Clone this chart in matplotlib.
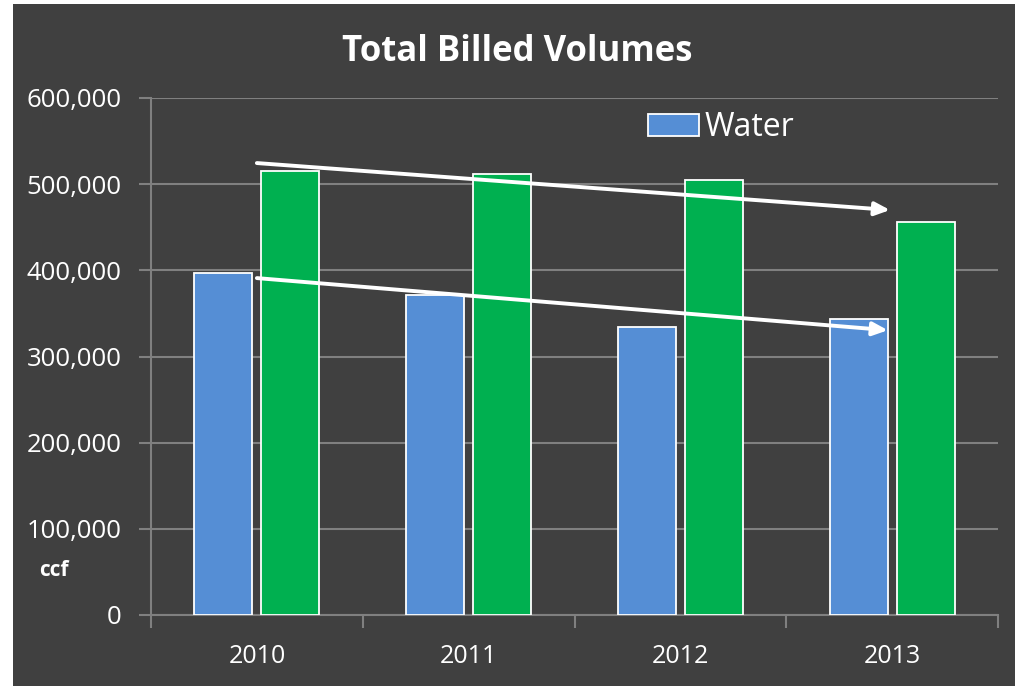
import numpy as np
import matplotlib.pyplot as plt
from matplotlib.patches import Rectangle
from matplotlib.ticker import FuncFormatter

years = ["2010", "2011", "2012", "2013"]
water = [397000, 371500, 334000, 343500]
sewer = [515500, 511500, 505000, 456000]
# trend arrows (start at 2010, end near 2013)
sewer_trend = [524500, 470000]
water_trend = [391000, 330500]

bg = "#404040"
grid_c = "#808080"
plt.rcParams['font.family'] = ['Open Sans', 'DejaVu Sans']

fig = plt.figure(figsize=(10.15, 6.86), dpi=100, facecolor="white")
fig.patches.append(Rectangle((13 / 1015, 0), 1, 1 - 4 / 686, transform=fig.transFigure,
                             facecolor=bg, edgecolor="none", zorder=-10))
ax = fig.add_axes([151 / 1015, 1 - 615 / 686, (998 - 151) / 1015, (615 - 98) / 686])
ax.set_facecolor(bg)

x = np.arange(len(years))
w = 0.274
off = 0.158
ax.bar(x - off, water, w, color="#558ED5", edgecolor="white", linewidth=1.3,
       label="Water", zorder=3)
ax.bar(x + off, sewer, w, color="#00B050", edgecolor="white", linewidth=1.3, zorder=3)

ax.set_xlim(-0.5, 3.5)
ax.set_ylim(0, 600000)
ax.set_yticks(np.arange(0, 600001, 100000))
ax.yaxis.set_major_formatter(FuncFormatter(lambda v, p: f"{int(v):,}"))
ax.set_xticks(x)
ax.set_xticklabels(years)
ax.set_xticks(np.arange(-0.5, 3.6, 1), minor=True)
ax.tick_params(axis="x", which="major", length=0, pad=21, labelsize=18, colors="white")
ax.tick_params(axis="x", which="minor", length=9, width=1.5, color=grid_c)
ax.tick_params(axis="y", length=9, width=1.5, color=grid_c, labelsize=18.5, labelcolor="white", pad=12)
ax.grid(axis="y", color=grid_c, linewidth=1.5, zorder=0)
for s in ["top", "right"]:
    ax.spines[s].set_visible(False)
for s in ["left", "bottom"]:
    ax.spines[s].set_color(grid_c)
    ax.spines[s].set_linewidth(1.5)

arrow = dict(arrowstyle="-|>,head_length=0.9,head_width=0.4", color="white", lw=2.8,
             shrinkA=0, shrinkB=0)
ax.annotate("", xy=(2.99, sewer_trend[1]), xytext=(0, sewer_trend[0]), arrowprops=arrow, zorder=5)
ax.annotate("", xy=(2.98, water_trend[1]), xytext=(0, water_trend[0]), arrowprops=arrow, zorder=5)

leg = ax.legend(loc="center left", bbox_to_anchor=(0.587, 0.942), frameon=False,
                fontsize=23, handlelength=1.6, handleheight=0.7, handletextpad=0.15,
                borderpad=0, borderaxespad=0)
for t in leg.get_texts():
    t.set_color("white")

fig.text(517 / 1015, 1 - 52 / 686, "Total Billed Volumes", ha="center", va="center",
         fontsize=25, fontweight="bold", color="white")
fig.text(54 / 1015, 1 - 570 / 686, "ccf", ha="center", va="center",
         fontsize=15, fontweight="bold", color="white")

fig.savefig("out.png", dpi=100, facecolor=fig.get_facecolor())
